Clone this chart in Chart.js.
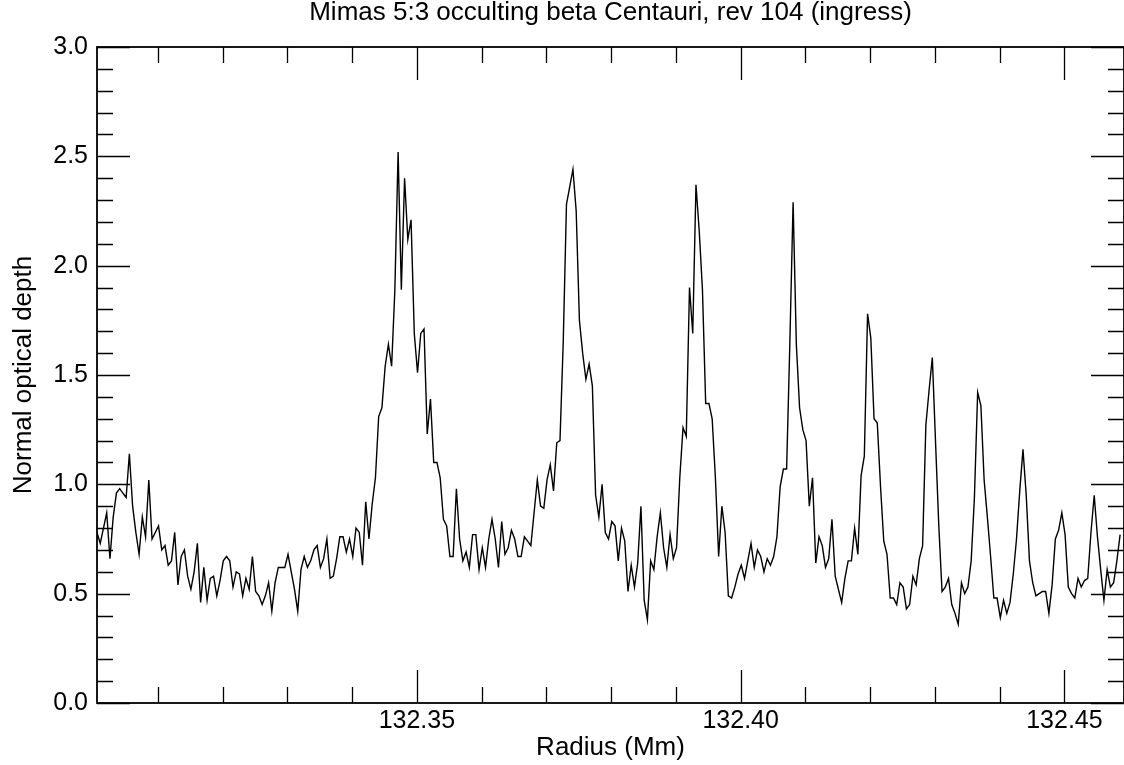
<!DOCTYPE html>
<html>
<head>
<meta charset="utf-8">
<script src="https://cdn.jsdelivr.net/npm/chart.js@4.4.1/dist/chart.umd.min.js"></script>
<style>
  html, body { margin: 0; padding: 0; background: #ffffff; }
  #wrap { width: 1124px; height: 765px; position: relative; }
</style>
</head>
<body>
<div id="wrap"><canvas id="c" width="1124" height="765"></canvas></div>
<script>
const TITLE = 'Mimas 5:3 occulting beta Centauri, rev 104 (ingress)';
const X_LABEL = 'Radius (Mm)';
const Y_LABEL = 'Normal optical depth';

// Radius samples (Mm)
const RADIUS = [
  132.3006,132.3011,132.3016,132.3021,132.3026,132.3031,132.3036,132.3041,132.3046,132.3051,
  132.3056,132.3061,132.3066,132.3071,132.3076,132.3081,132.3086,132.3091,132.3096,132.3101,
  132.3106,132.3111,132.3116,132.3121,132.3126,132.3131,132.3136,132.3141,132.3146,132.3151,
  132.3156,132.3161,132.3166,132.3171,132.3176,132.3181,132.3186,132.3191,132.3196,132.3201,
  132.3206,132.3211,132.3216,132.3221,132.3226,132.3231,132.3236,132.3241,132.3246,132.3251,
  132.3256,132.3261,132.3266,132.3271,132.3276,132.3281,132.3286,132.3291,132.3296,132.3301,
  132.3306,132.3311,132.3316,132.3321,132.3326,132.3331,132.3336,132.3341,132.3346,132.3351,
  132.3356,132.3361,132.3366,132.3371,132.3376,132.3381,132.3386,132.3391,132.3396,132.3401,
  132.3406,132.3411,132.3416,132.3421,132.3426,132.3431,132.3436,132.3441,132.3446,132.3451,
  132.3456,132.3461,132.3466,132.3471,132.3476,132.3481,132.3486,132.3491,132.3496,132.3501,
  132.3506,132.3511,132.3516,132.3521,132.3526,132.3531,132.3536,132.3541,132.3546,132.3551,
  132.3556,132.3561,132.3566,132.3571,132.3576,132.3581,132.3586,132.3591,132.3596,132.3601,
  132.3606,132.3611,132.3616,132.3621,132.3626,132.3631,132.3636,132.3641,132.3646,132.3651,
  132.3656,132.3661,132.3666,132.3671,132.3676,132.3681,132.3686,132.3691,132.3696,132.3701,
  132.3706,132.3711,132.3716,132.3721,132.3726,132.3731,132.3736,132.3741,132.3746,132.3751,
  132.3756,132.3761,132.3766,132.3771,132.3776,132.3781,132.3786,132.3791,132.3796,132.3801,
  132.3806,132.3811,132.3816,132.3821,132.3826,132.3831,132.3836,132.3841,132.3846,132.3851,
  132.3856,132.3861,132.3866,132.3871,132.3876,132.3881,132.3886,132.3891,132.3896,132.3901,
  132.3906,132.3911,132.3916,132.3921,132.3926,132.3931,132.3936,132.3941,132.3946,132.3951,
  132.3956,132.3961,132.3966,132.3971,132.3976,132.3981,132.3986,132.3991,132.3996,132.4001,
  132.4006,132.4011,132.4016,132.4021,132.4026,132.4031,132.4036,132.4041,132.4046,132.4051,
  132.4056,132.4061,132.4066,132.4071,132.4076,132.4081,132.4086,132.4091,132.4096,132.4101,
  132.4106,132.4111,132.4116,132.4121,132.4126,132.4131,132.4136,132.4141,132.4146,132.4151,
  132.4156,132.4161,132.4166,132.4171,132.4176,132.4181,132.4186,132.4191,132.4196,132.4201,
  132.4206,132.4211,132.4216,132.4221,132.4226,132.4231,132.4236,132.4241,132.4246,132.4251,
  132.4256,132.4261,132.4266,132.4271,132.4276,132.4281,132.4286,132.4291,132.4296,132.4301,
  132.4306,132.4311,132.4316,132.4321,132.4326,132.4331,132.4336,132.4341,132.4346,132.4351,
  132.4356,132.4361,132.4366,132.4371,132.4376,132.4381,132.4386,132.4391,132.4396,132.4401,
  132.4406,132.4411,132.4416,132.4421,132.4426,132.4431,132.4436,132.4441,132.4446,132.4451,
  132.4456,132.4461,132.4466,132.4471,132.4476,132.4481,132.4486,132.4491,132.4496,132.4501,
  132.4506,132.4511,132.4516,132.4521,132.4526,132.4531,132.4536,132.4541,132.4546,132.4551,
  132.4556,132.4561,132.4566,132.4571,132.4576,132.4581,132.4586
];

// Normal optical depth
const TAU = [
  0.78,0.73,0.80,0.87,0.66,0.85,0.96,0.98,0.96,0.94,
  1.14,0.90,0.78,0.68,0.85,0.76,1.02,0.75,0.78,0.81,
  0.70,0.72,0.63,0.65,0.78,0.54,0.67,0.70,0.58,0.52,
  0.60,0.73,0.46,0.62,0.47,0.57,0.58,0.49,0.56,0.65,
  0.67,0.65,0.53,0.60,0.59,0.49,0.57,0.52,0.67,0.51,
  0.49,0.45,0.49,0.55,0.42,0.55,0.62,0.62,0.62,0.68,
  0.60,0.52,0.42,0.61,0.67,0.62,0.65,0.70,0.72,0.62,
  0.66,0.75,0.57,0.58,0.66,0.76,0.76,0.69,0.75,0.67,
  0.80,0.78,0.63,0.92,0.75,0.91,1.03,1.31,1.35,1.54,
  1.64,1.54,1.89,2.52,1.89,2.40,2.12,2.21,1.69,1.51,
  1.69,1.71,1.23,1.39,1.10,1.10,1.03,0.84,0.81,0.67,
  0.67,0.98,0.75,0.65,0.69,0.62,0.77,0.77,0.61,0.71,
  0.62,0.75,0.84,0.75,0.62,0.83,0.68,0.71,0.79,0.75,
  0.67,0.67,0.76,0.74,0.72,0.87,1.02,0.90,0.89,1.02,
  1.09,0.97,1.19,1.20,1.65,2.28,2.36,2.44,2.25,1.75,
  1.60,1.48,1.55,1.45,0.95,0.85,1.00,0.78,0.75,0.83,
  0.81,0.65,0.80,0.74,0.51,0.63,0.53,0.64,0.90,0.47,
  0.38,0.65,0.61,0.76,0.87,0.71,0.62,0.77,0.66,0.71,
  1.03,1.26,1.22,1.90,1.69,2.37,2.16,1.89,1.37,1.37,
  1.30,1.03,0.67,0.90,0.78,0.49,0.48,0.53,0.59,0.63,
  0.57,0.65,0.73,0.62,0.70,0.67,0.60,0.66,0.63,0.67,
  0.76,0.99,1.07,1.07,1.65,2.29,1.64,1.35,1.25,1.20,
  0.90,1.03,0.64,0.76,0.72,0.62,0.66,0.84,0.58,0.52,
  0.46,0.57,0.65,0.65,0.80,0.68,1.04,1.13,1.78,1.67,
  1.30,1.28,0.99,0.74,0.68,0.48,0.48,0.45,0.55,0.53,
  0.43,0.45,0.58,0.54,0.66,0.72,1.27,1.43,1.58,1.19,
  0.81,0.51,0.53,0.57,0.45,0.41,0.36,0.55,0.50,0.53,
  0.65,0.94,1.42,1.36,1.02,0.85,0.67,0.48,0.48,0.39,
  0.47,0.41,0.46,0.59,0.75,0.97,1.16,0.95,0.65,0.55,
  0.49,0.50,0.51,0.51,0.41,0.54,0.75,0.79,0.87,0.77,
  0.53,0.50,0.48,0.57,0.53,0.56,0.57,0.78,0.95,0.76,
  0.61,0.47,0.61,0.53,0.55,0.65,0.77
];

const X_MAJOR_TICKS = [132.35, 132.40, 132.45];
const X_MINOR_TICKS = [132.31, 132.32, 132.33, 132.34, 132.36, 132.37, 132.38, 132.39,
                       132.41, 132.42, 132.43, 132.44];
const Y_MAJOR_TICKS = [0.0, 0.5, 1.0, 1.5, 2.0, 2.5, 3.0];
const Y_MINOR_TICKS = [0.1, 0.2, 0.3, 0.4, 0.6, 0.7, 0.8, 0.9, 1.1, 1.2, 1.3, 1.4,
                       1.6, 1.7, 1.8, 1.9, 2.1, 2.2, 2.3, 2.4, 2.6, 2.7, 2.8, 2.9];
const X_RANGE = [132.3006, 132.4592];
const Y_RANGE = [0, 3];

const FONT = '"Liberation Sans", Arial, Helvetica, sans-serif';

const points = [];
for (let i = 0; i < Math.min(RADIUS.length, TAU.length); i++) {
  points.push({ x: RADIUS[i], y: TAU[i] });
}

const frameAndTicks = {
  id: 'frameAndTicks',
  afterDatasetsDraw(chart) {
    const { ctx, chartArea: a, scales } = chart;
    const xs = scales.x, ys = scales.y;
    ctx.save();
    ctx.strokeStyle = '#000';
    ctx.lineWidth = 1.3;
    ctx.beginPath();
    const xt = (v, len) => {
      const p = Math.round(xs.getPixelForValue(v)) + 0.5;
      ctx.moveTo(p, a.bottom); ctx.lineTo(p, a.bottom - len);
      ctx.moveTo(p, a.top); ctx.lineTo(p, a.top + len);
    };
    const yt = (v, len) => {
      const p = Math.round(ys.getPixelForValue(v)) + 0.5;
      ctx.moveTo(a.left, p); ctx.lineTo(a.left + len, p);
      ctx.moveTo(a.right, p); ctx.lineTo(a.right - len, p);
    };
    X_MINOR_TICKS.forEach(v => xt(v, 16));
    X_MAJOR_TICKS.forEach(v => xt(v, 33));
    Y_MINOR_TICKS.forEach(v => yt(v, 16));
    Y_MAJOR_TICKS.forEach(v => yt(v, 33));
    ctx.stroke();
    ctx.lineWidth = 1.8;
    ctx.strokeRect(a.left, a.top, a.right - a.left, a.bottom - a.top);
    ctx.restore();
  }
};

new Chart(document.getElementById('c'), {
  type: 'line',
  data: {
    datasets: [{
      data: points,
      borderColor: '#000000',
      borderWidth: 1.4,
      pointRadius: 0,
      tension: 0,
      fill: false
    }]
  },
  options: {
    responsive: false,
    animation: false,
    devicePixelRatio: 1,
    parsing: false,
    normalized: true,
    layout: { padding: { left: 0, right: -4, top: 0, bottom: 0 } },
    plugins: {
      legend: { display: false },
      tooltip: { enabled: false },
      title: {
        display: true,
        text: TITLE,
        color: '#000',
        fullSize: false,
        font: { family: FONT, size: 26, weight: 'normal', lineHeight: 1.0 },
        padding: { top: 0, bottom: 21 }
      }
    },
    scales: {
      x: {
        type: 'linear',
        position: 'bottom',
        min: X_RANGE[0],
        max: X_RANGE[1],
        grid: { display: false, drawTicks: false },
        border: { display: false },
        afterBuildTicks: (s) => { s.ticks = X_MAJOR_TICKS.map(v => ({ value: v })); },
        afterFit: (s) => { s.height = 62; },
        ticks: {
          autoSkip: false,
          maxRotation: 0,
          padding: 3,
          color: '#000',
          font: { family: FONT, size: 25 },
          callback: (v) => Number(v).toFixed(2)
        },
        title: {
          display: true,
          text: X_LABEL,
          color: '#000',
          font: { family: FONT, size: 26 },
          padding: { top: 0, bottom: 1.4 }
        }
      },
      y: {
        type: 'linear',
        position: 'left',
        min: Y_RANGE[0],
        max: Y_RANGE[1],
        grid: { display: false, drawTicks: false },
        border: { display: false },
        afterBuildTicks: (s) => { s.ticks = Y_MAJOR_TICKS.map(v => ({ value: v })); },
        afterFit: (s) => { s.width = 97; },
        ticks: {
          autoSkip: false,
          padding: 9,
          color: '#000',
          font: { family: FONT, size: 25 },
          callback: (v) => Number(v).toFixed(1)
        },
        title: {
          display: true,
          text: Y_LABEL,
          color: '#000',
          font: { family: FONT, size: 26 },
          padding: { top: 8.4, bottom: 0 }
        }
      }
    }
  },
  plugins: [frameAndTicks]
});
</script>
</body>
</html>
